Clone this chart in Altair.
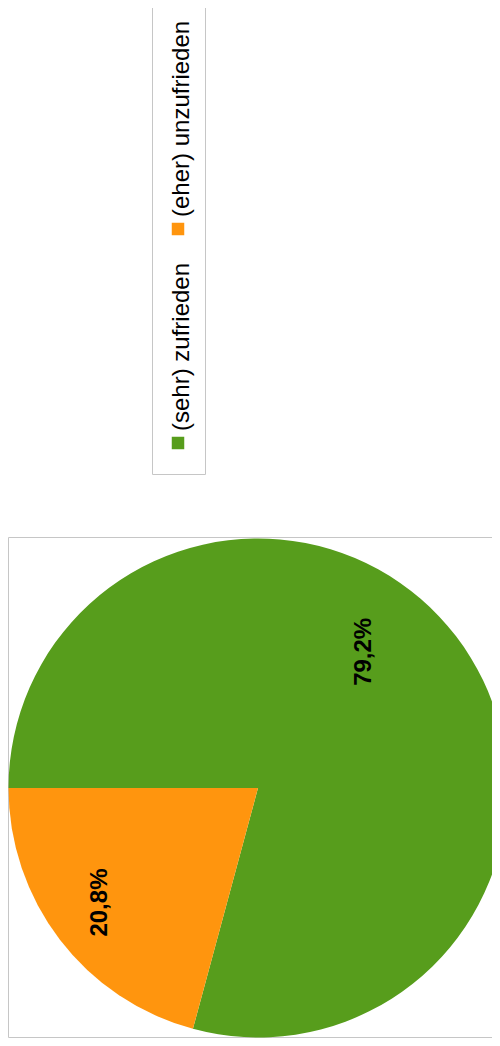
import math
import altair as alt
import pandas as pd

# ---- data ----
categories = ["(sehr) zufrieden", "(eher) unzufrieden"]
values = [79.2, 20.8]
labels = ["79,2%", "20,8%"]
colors = ["#579d1c", "#ff950e"]
order = [0, 1]

df = pd.DataFrame({"cat": categories, "value": values, "label": labels, "order": order})
leg_df = pd.DataFrame({"cat": categories})
one = pd.DataFrame({"k": [0]})

FONT = "Liberation Sans"
GRAY = "#c6c6c6"
W, H = 484, 1030
CX, CY, R = 250, 780, 249.5   # pie centre / radius (layout, not data)

color = alt.Color("cat:N", scale=alt.Scale(domain=categories, range=colors), legend=None)
theta_scale = alt.Scale(domain=[0, 100], range=[1.5 * math.pi, 3.5 * math.pi])

base = (
    alt.Chart(df)
    .transform_window(cum="sum(value)", sort=[alt.SortField("order")])
    .transform_calculate(start="datum.cum - datum.value", mid="datum.cum - datum.value / 2")
)

arcs = base.mark_arc(outerRadius=R).encode(
    theta=alt.Theta("start:Q", scale=theta_scale, stack=None),
    theta2="cum:Q",
    color=color,
    x=alt.value(CX),
    y=alt.value(CY),
)

lab_green = (
    base.transform_filter(alt.datum.cat == categories[0])
    .mark_text(radius=173, angle=270, dx=31, dy=-31, fontSize=24, fontWeight="bold",
               font=FONT, align="center", baseline="middle", color="black")
    .encode(theta=alt.Theta("mid:Q", scale=theta_scale, stack=None), text="label:N",
            x=alt.value(CX), y=alt.value(CY))
)
lab_orange = (
    base.transform_filter(alt.datum.cat == categories[1])
    .mark_text(radius=195, angle=270, dx=4, dy=-3, fontSize=24, fontWeight="bold",
               font=FONT, align="center", baseline="middle", color="black")
    .encode(theta=alt.Theta("mid:Q", scale=theta_scale, stack=None), text="label:N",
            x=alt.value(CX), y=alt.value(CY))
)

# frame around the pie (left, top, bottom; right side lies outside the page)
f_left = alt.Chart(one).mark_rule(color=GRAY, strokeWidth=1).encode(
    x=alt.value(0.5), y=alt.value(529.5), y2=alt.value(1029.5))
f_top = alt.Chart(one).mark_rule(color=GRAY, strokeWidth=1).encode(
    x=alt.value(0.5), x2=alt.value(W), y=alt.value(529.5))
f_bottom = alt.Chart(one).mark_rule(color=GRAY, strokeWidth=1).encode(
    x=alt.value(0.5), x2=alt.value(W), y=alt.value(1029.5))

# ---- rotated legend ----
yscale = alt.Scale(type="point", domain=categories[::-1], range=[221, 435], padding=0)

leg_sq = alt.Chart(leg_df).mark_square(size=156, opacity=1).encode(
    x=alt.value(170), y=alt.Y("cat:N", scale=yscale, axis=None), color=color
)
leg_txt = alt.Chart(leg_df).mark_text(
    angle=270, align="left", baseline="middle", dx=12, fontSize=24, font=FONT, color="black"
).encode(x=alt.value(174), y=alt.Y("cat:N", scale=yscale, axis=None), text="cat:N")

r_left = alt.Chart(one).mark_rule(color=GRAY, strokeWidth=1).encode(
    x=alt.value(144.5), y=alt.value(0), y2=alt.value(466.5))
r_right = alt.Chart(one).mark_rule(color=GRAY, strokeWidth=1).encode(
    x=alt.value(197.5), y=alt.value(0), y2=alt.value(466.5))
r_bottom = alt.Chart(one).mark_rule(color=GRAY, strokeWidth=1).encode(
    x=alt.value(144.5), x2=alt.value(197.5), y=alt.value(466.5))

chart = (
    alt.layer(f_left, f_top, f_bottom, arcs, lab_green, lab_orange,
              r_left, r_right, r_bottom, leg_sq, leg_txt)
    .properties(width=W, height=H, padding=0,
                autosize=alt.AutoSizeParams(type="none"))
    .configure_view(strokeWidth=0)
)

chart.save("out.html", embed_options={"renderer": "svg", "actions": False})
